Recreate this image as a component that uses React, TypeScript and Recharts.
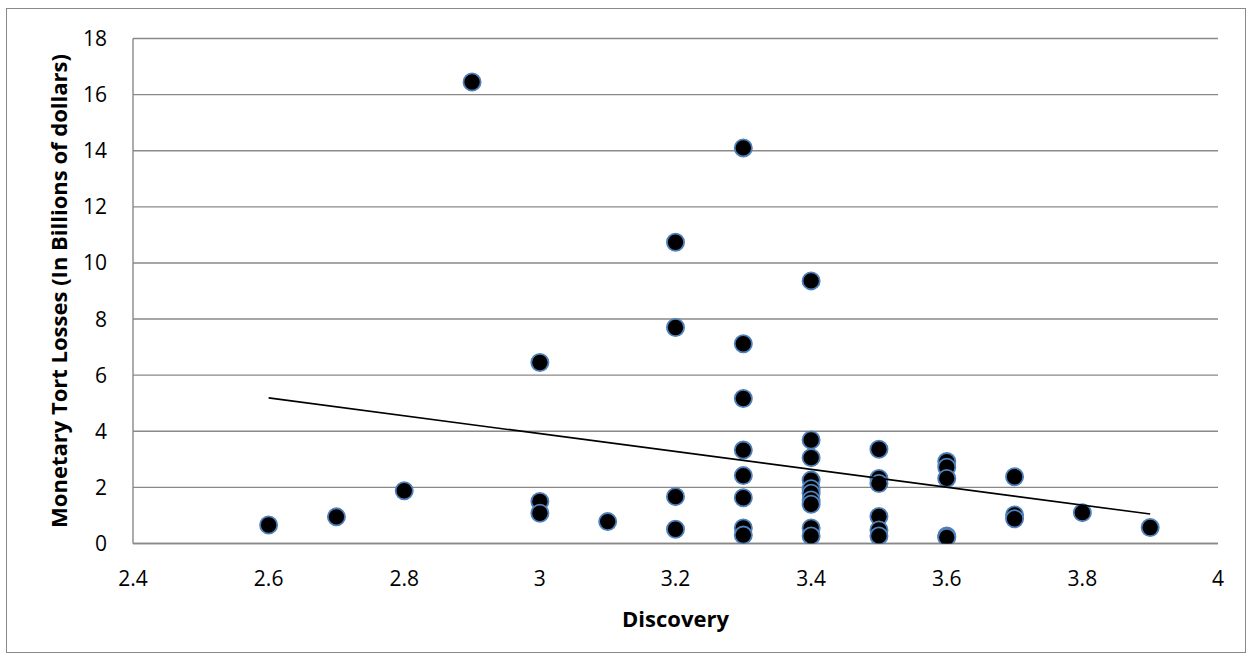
import React from "react";
import { ScatterChart, Scatter, XAxis, YAxis, CartesianGrid } from "recharts";

const discovery = [
  2.6, 2.7, 2.8, 2.9,
  3.0, 3.0, 3.0,
  3.1,
  3.2, 3.2, 3.2, 3.2,
  3.3, 3.3, 3.3, 3.3, 3.3, 3.3, 3.3, 3.3,
  3.4, 3.4, 3.4, 3.4, 3.4, 3.4, 3.4, 3.4, 3.4, 3.4,
  3.5, 3.5, 3.5, 3.5, 3.5, 3.5,
  3.6, 3.6, 3.6, 3.6, 3.6,
  3.7, 3.7, 3.7,
  3.8, 3.9,
];
const tortLosses = [
  0.66, 0.95, 1.88, 16.45,
  6.45, 1.5, 1.08,
  0.78,
  10.74, 7.7, 1.67, 0.51,
  14.1, 7.12, 5.17, 3.33, 2.42, 1.63, 0.55, 0.3,
  9.36, 3.69, 3.06, 2.26, 1.95, 1.79, 1.55, 1.4, 0.55, 0.27,
  3.36, 2.32, 2.14, 0.96, 0.48, 0.27,
  2.92, 2.72, 2.32, 0.27, 0.22,
  2.38, 1.02, 0.88,
  1.1, 0.57,
];
const trendX = [2.6, 3.9];
const trendY = [5.19, 1.05];
const xTicks = [2.4, 2.6, 2.8, 3, 3.2, 3.4, 3.6, 3.8, 4];
const yTicks = [0, 2, 4, 6, 8, 10, 12, 14, 16, 18];

const points = discovery.map((x, i) => ({ x, y: tortLosses[i] }));
const trend = trendX.map((x, i) => ({ x, y: trendY[i] }));

const FONT = "'Open Sans', 'Noto Sans', sans-serif";

const Dot = (props: any) => {
  const { cx, cy } = props;
  return <circle cx={cx} cy={cy} r={8.6} fill="#000" stroke="#4F81BD" strokeWidth={1.8} />;
};

export default function App() {
  return (
    <div style={{ position: "absolute", left: 0, top: 0, width: 1253, height: 661, background: "#fff" }}>
      <div
        style={{
          position: "absolute",
          left: 6,
          top: 8,
          width: 1240,
          height: 645,
          border: "1.5px solid #898989",
          boxSizing: "border-box",
        }}
      />
      <div style={{ position: "absolute", left: 0, top: 0 }}>
        <ScatterChart width={1253} height={661} margin={{ top: 38.5, right: 35, left: 0, bottom: 0 }}>
          <CartesianGrid vertical={false} stroke="#898989" strokeWidth={1.4} />
          <XAxis
            type="number"
            dataKey="x"
            domain={[2.4, 4]}
            ticks={xTicks}
            tickFormatter={(v: number) => String(v)}
            height={117.5}
            axisLine={{ stroke: "#898989", strokeWidth: 1.4 }}
            tickLine={false}
            tickSize={0}
            tickMargin={28}
            tick={{ fill: "#000", fontSize: 21, fontFamily: FONT }}
            allowDataOverflow
            label={{
              content: (p: any) => {
                const vb = p.viewBox;
                return (
                  <text
                    x={vb.x + vb.width / 2}
                    y={627}
                    textAnchor="middle"
                    fontFamily={FONT}
                    fontWeight="bold"
                    fontSize={22}
                    fill="#000"
                  >
                    Discovery
                  </text>
                );
              },
            }}
          />
          <YAxis
            type="number"
            dataKey="y"
            domain={[0, 18]}
            ticks={yTicks}
            width={133}
            axisLine={{ stroke: "#898989", strokeWidth: 1.4 }}
            tickLine={false}
            tickSize={0}
            tickMargin={26}
            tick={{ fill: "#000", fontSize: 21, fontFamily: FONT }}
            allowDataOverflow
            label={{
              content: (p: any) => {
                const vb = p.viewBox;
                const cx = 67;
                const cy = vb.y + vb.height / 2;
                return (
                  <text
                    x={cx}
                    y={cy}
                    transform={`rotate(-90 ${cx} ${cy})`}
                    textAnchor="middle"
                    fontFamily={FONT}
                    fontWeight="bold"
                    fontSize={22}
                    fill="#000"
                  >
                    Monetary Tort Losses (In Billions of dollars)
                  </text>
                );
              },
            }}
          />
          <Scatter data={points} shape={<Dot />} isAnimationActive={false} />
          <Scatter
            data={trend}
            line={{ stroke: "#000", strokeWidth: 1.6 }}
            shape={() => <g />}
            isAnimationActive={false}
          />
        </ScatterChart>
      </div>
    </div>
  );
}
